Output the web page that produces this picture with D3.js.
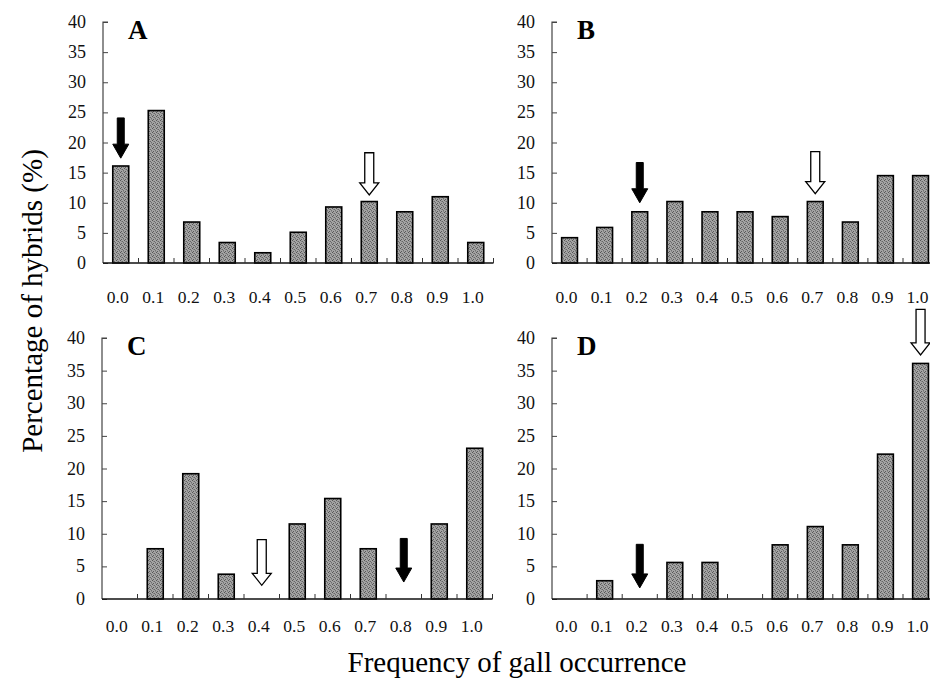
<!DOCTYPE html>
<html>
<head>
<meta charset="utf-8">
<script src="https://cdn.jsdelivr.net/npm/d3@7"></script>
<style>
  html, body { margin: 0; padding: 0; background: #fff; }
  svg { display: block; font-family: "Liberation Serif", "Times New Roman", serif; }
</style>
</head>
<body>
<div id="chart"></div>
<script>
// categories and tick labels
const categories = ['0.0', '0.1', '0.2', '0.3', '0.4', '0.5', '0.6', '0.7', '0.8', '0.9', '1.0'];
const yTicks = [0, 5, 10, 15, 20, 25, 30, 35, 40];

// percentage of hybrids per panel
const valuesA = [16.1, 25.3, 6.8, 3.4, 1.7, 5.1, 9.3, 10.2, 8.5, 11.0, 3.4];
const valuesB = [4.2, 5.9, 8.5, 10.2, 8.5, 8.5, 7.7, 10.2, 6.8, 14.5, 14.5];
const valuesC = [0, 7.7, 19.2, 3.8, 0, 11.5, 15.4, 7.7, 0, 11.5, 23.1];
const valuesD = [0, 2.8, 0, 5.6, 5.6, 0, 8.3, 11.1, 8.3, 22.2, 36.1];

// arrows: [category, type, value at the arrow tip]
const arrowsA = [['0.0', 'black', 17.4], ['0.7', 'white', 11.3]];
const arrowsB = [['0.2', 'black', 10.0], ['0.7', 'white', 11.5]];
const arrowsC = [['0.4', 'white', 2.1], ['0.8', 'black', 2.6]];
const arrowsD = [['0.2', 'black', 1.7], ['1.0', 'white', 37.4]];

const W = 930, H = 682;

const panels = [
  { letter: 'A', values: valuesA, arrows: arrowsA, x0: 103, step: 35.5, y0: 263, yTop: 22, labelY: 303 },
  { letter: 'B', values: valuesB, arrows: arrowsB, x0: 552, step: 35.1, y0: 263, yTop: 22, labelY: 303 },
  { letter: 'C', values: valuesC, arrows: arrowsC, x0: 102, step: 35.5, y0: 599, yTop: 338, labelY: 632 },
  { letter: 'D', values: valuesD, arrows: arrowsD, x0: 552, step: 35.1, y0: 599, yTop: 338, labelY: 632 }
];

const svg = d3.select('#chart').append('svg')
  .attr('width', W)
  .attr('height', H);

// stippled grey fill of the bars
const dots = [[0, 0, '#555'], [2, 1, '#666'], [1, 3, '#5c5c5c'], [3, 2, '#6e6e6e'], [1, 1, '#888'], [3, 3, '#8a8a8a']];
const pat = svg.append('defs').append('pattern')
  .attr('id', 'stipple')
  .attr('patternUnits', 'userSpaceOnUse')
  .attr('width', 4)
  .attr('height', 4);
pat.append('rect').attr('width', 4).attr('height', 4).attr('fill', '#a4a4a4');
pat.selectAll('rect.dot')
  .data(dots)
  .enter().append('rect')
  .attr('class', 'dot')
  .attr('x', d => d[0]).attr('y', d => d[1])
  .attr('width', 1).attr('height', 1)
  .attr('fill', d => d[2]);

panels.forEach(p => {
  const g = svg.append('g');
  const xEnd = p.x0 + p.step * categories.length;

  const x = d3.scaleBand()
    .domain(categories)
    .range([p.x0, xEnd])
    .paddingInner(0.55)
    .paddingOuter(0.275);

  const y = d3.scaleLinear()
    .domain([0, 40])
    .range([p.y0, p.yTop]);

  // y axis, ticks pointing inward
  const yAxis = g.append('g')
    .attr('transform', `translate(${p.x0},0)`)
    .call(d3.axisRight(y).tickValues(yTicks).tickSize(5).tickFormat(''));
  yAxis.select('.domain').attr('stroke', '#444').attr('stroke-width', 1.2).attr('d', `M5,${p.yTop}H0V${p.y0}`);
  yAxis.selectAll('.tick line').attr('stroke', '#444');

  g.selectAll('.ylab')
    .data(yTicks)
    .enter().append('text')
    .attr('x', p.x0 - 17)
    .attr('y', d => y(d) + 6)
    .attr('text-anchor', 'end')
    .attr('font-size', 18)
    .attr('fill', '#111')
    .text(d => d);

  // bars
  g.selectAll('rect.bar')
    .data(p.values.map((v, i) => ({ cat: categories[i], v })).filter(d => d.v > 0))
    .enter().append('rect')
    .attr('class', 'bar')
    .attr('x', d => x(d.cat))
    .attr('y', d => y(d.v))
    .attr('width', x.bandwidth())
    .attr('height', d => y(0) - y(d.v))
    .attr('fill', 'url(#stipple)')
    .attr('stroke', '#000')
    .attr('stroke-width', 1.6);

  // x axis with ticks between the bars
  g.append('line')
    .attr('x1', p.x0).attr('x2', xEnd)
    .attr('y1', p.y0).attr('y2', p.y0)
    .attr('stroke', '#111').attr('stroke-width', 1.5);
  g.selectAll('.xtick')
    .data(d3.range(1, categories.length + 1))
    .enter().append('line')
    .attr('x1', i => p.x0 + i * x.step())
    .attr('x2', i => p.x0 + i * x.step())
    .attr('y1', p.y0)
    .attr('y2', p.y0 - 5)
    .attr('stroke', '#333');

  g.selectAll('.xlab')
    .data(categories)
    .enter().append('text')
    .attr('x', d => x(d) + x.bandwidth() / 2 - 3)
    .attr('y', p.labelY)
    .attr('text-anchor', 'middle')
    .attr('font-size', 17.5)
    .attr('fill', '#111')
    .text(d => d);

  // panel letter
  g.append('text')
    .attr('x', p.x0 + 25)
    .attr('y', p.yTop + 17)
    .attr('font-size', 27)
    .attr('font-weight', 'bold')
    .text(p.letter);

  // arrows
  const h = p.y0 - p.yTop;
  p.arrows.forEach(([cat, type, tip]) => {
    const cx = x(cat) + x.bandwidth() / 2;
    const ty = y(tip);
    const black = type === 'black';
    const len = (black ? 0.167 : 0.175) * h;
    const sw = black ? 3.5 : 4.5;
    const hw = black ? 8 : 9.5;
    const hh = black ? 14 : 12;
    const path = d3.path();
    path.moveTo(cx - sw, ty - len);
    path.lineTo(cx + sw, ty - len);
    path.lineTo(cx + sw, ty - hh);
    path.lineTo(cx + hw, ty - hh);
    path.lineTo(cx, ty);
    path.lineTo(cx - hw, ty - hh);
    path.lineTo(cx - sw, ty - hh);
    path.closePath();
    g.append('path')
      .attr('d', path.toString())
      .attr('fill', black ? '#000' : '#fff')
      .attr('stroke', '#000')
      .attr('stroke-width', black ? 1 : 1.3);
  });
});

// axis titles
svg.append('text')
  .attr('transform', 'translate(42,301) rotate(-90)')
  .attr('text-anchor', 'middle')
  .attr('font-size', 29)
  .text('Percentage of hybrids (%)');

svg.append('text')
  .attr('x', 517)
  .attr('y', 672)
  .attr('text-anchor', 'middle')
  .attr('font-size', 29)
  .text('Frequency of gall occurrence');
</script>
</body>
</html>
